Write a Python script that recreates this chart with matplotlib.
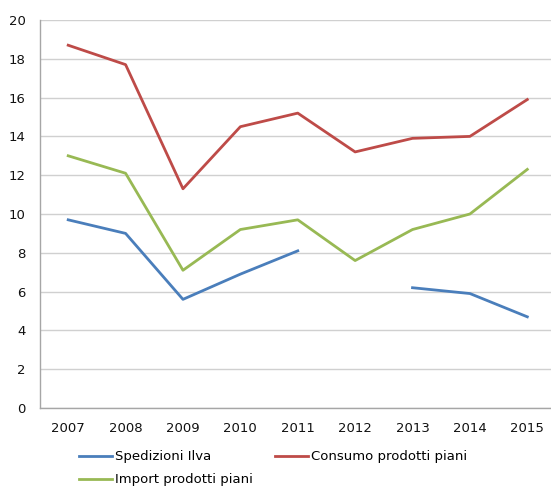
import numpy as np
import matplotlib.pyplot as plt

years = ['2007', '2008', '2009', '2010', '2011', '2012', '2013', '2014', '2015']
spedizioni_ilva = [9.7, 9.0, 5.6, 6.9, 8.1, np.nan, 6.2, 5.9, 4.7]
consumo_piani = [18.7, 17.7, 11.3, 14.5, 15.2, 13.2, 13.9, 14.0, 15.9]
import_piani = [13.0, 12.1, 7.1, 9.2, 9.7, 7.6, 9.2, 10.0, 12.3]
y_ticks = [0, 2, 4, 6, 8, 10, 12, 14, 16, 18, 20]

fig = plt.figure(figsize=(5.51, 4.87), dpi=100)
# plot area runs slightly past the right edge, as in the original
ax = fig.add_axes([39.5 / 551, 79 / 487, (556 - 39.5) / 551, 388 / 487])

x = np.arange(len(years))
l1, = ax.plot(x, spedizioni_ilva, color='#4A7EBB', lw=2.0, label='Spedizioni Ilva')
l2, = ax.plot(x, consumo_piani, color='#BE4B48', lw=2.0, label='Consumo prodotti piani')
l3, = ax.plot(x, import_piani, color='#98B954', lw=2.0, label='Import prodotti piani')

ax.set_xlim(-0.5, len(years) - 0.5)
ax.set_ylim(0, 20)
ax.set_xticks(x)
ax.set_xticklabels(years)
ax.set_yticks(y_ticks)
ax.grid(axis='y', color='#D0D0D0', lw=1.0)
ax.set_axisbelow(True)
ax.tick_params(length=0, labelsize=9.5, colors='#111111')
ax.tick_params(axis='x', pad=10)
ax.tick_params(axis='y', pad=10)
for side in ['top', 'right']:
    ax.spines[side].set_visible(False)
for side in ['left', 'bottom']:
    ax.spines[side].set_color('#A6A6A6')
    ax.spines[side].set_linewidth(1.0)

fig.legend([l1, l3, l2], [l1.get_label(), l3.get_label(), l2.get_label()],
           ncol=2, loc='upper left', bbox_to_anchor=(74 / 551, 1 - 445 / 487),
           frameon=False, fontsize=9.5, handlelength=2.5, handletextpad=0.2,
           columnspacing=1.7, labelspacing=0.75, borderaxespad=0)

fig.savefig('out.png', dpi=100)
